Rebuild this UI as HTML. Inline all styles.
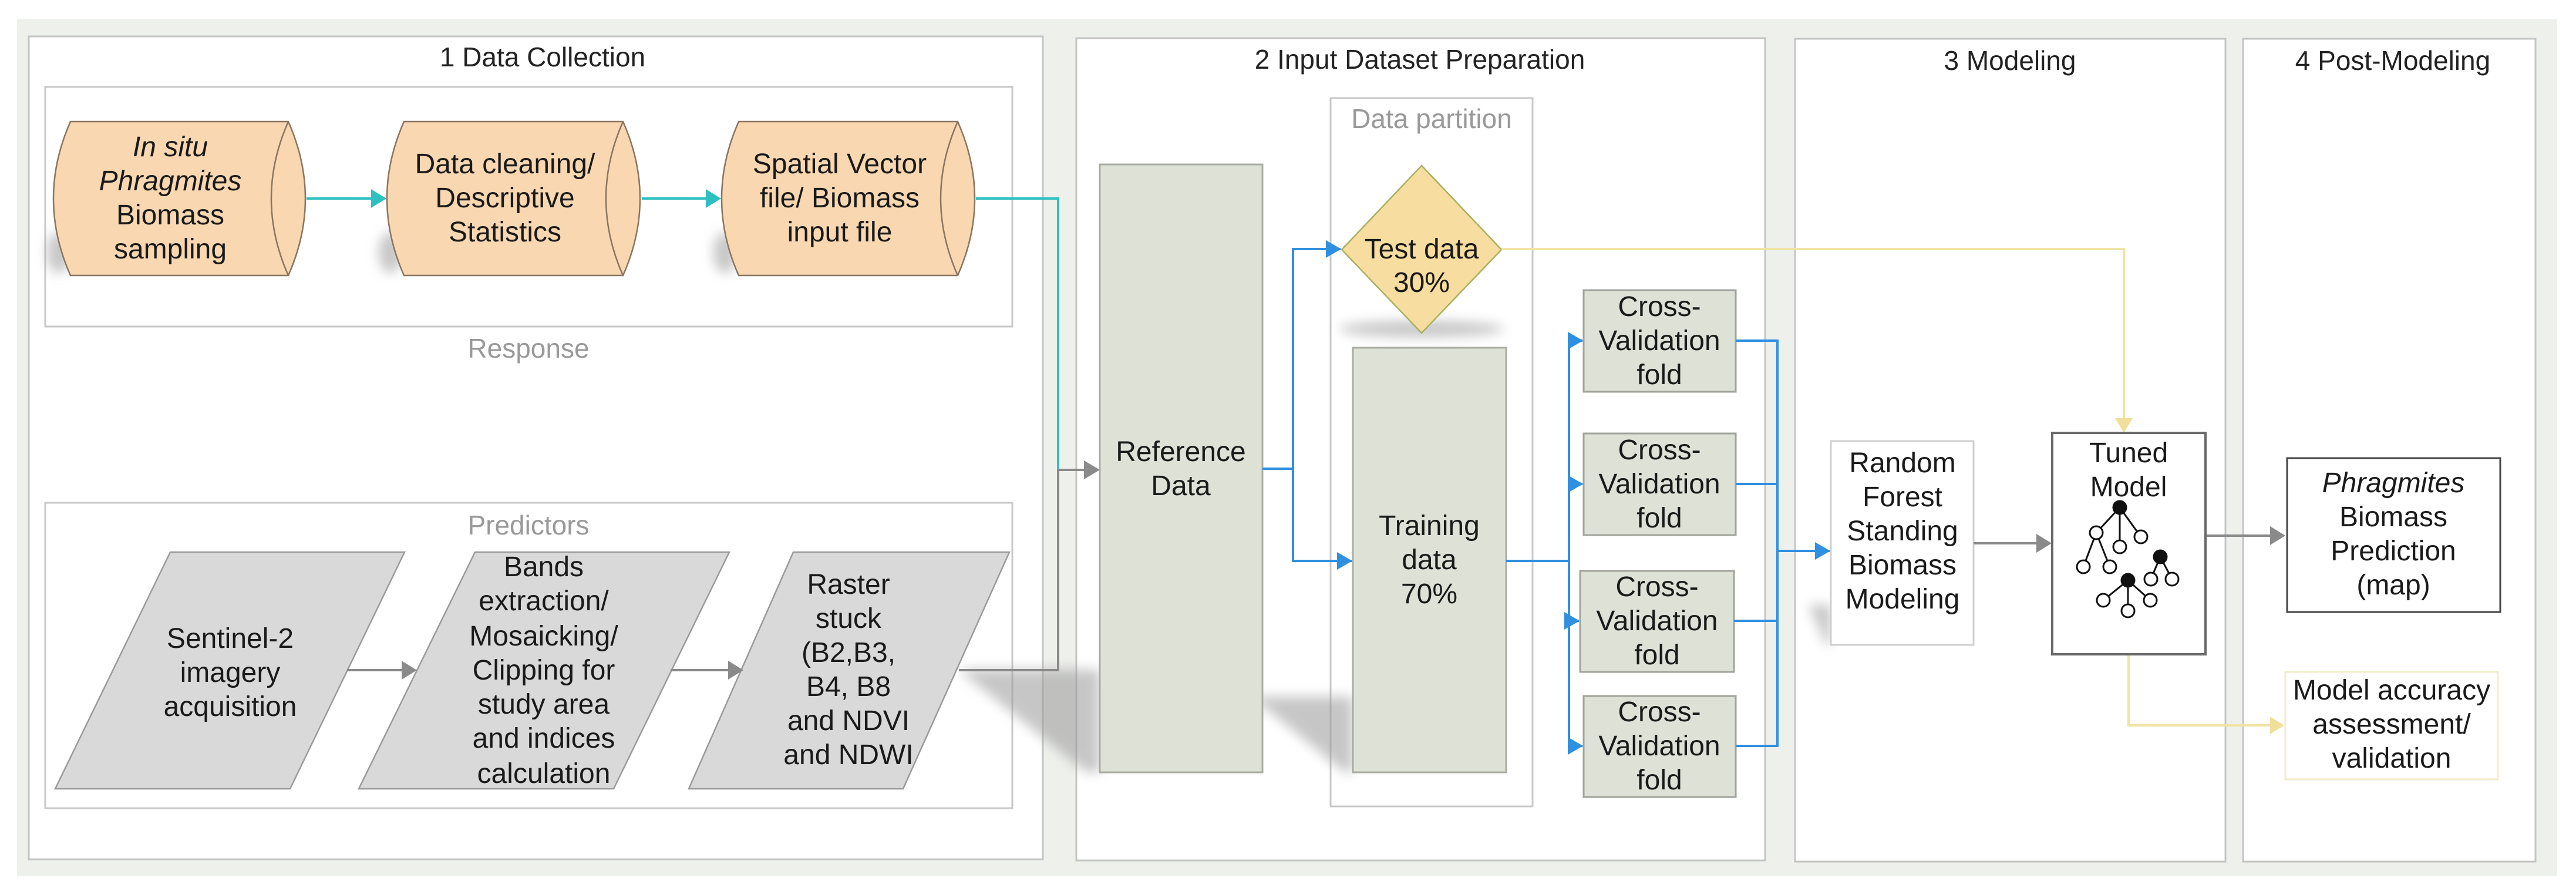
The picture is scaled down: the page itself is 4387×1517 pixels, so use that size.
<!DOCTYPE html>
<html><head><meta charset="utf-8"><style>
html,body{margin:0;padding:0;background:#fff;}
svg{display:block;}
text{font-family:"Liberation Sans",Arial,sans-serif;}
</style></head><body>
<svg width="4387" height="1517" viewBox="0 0 4387 1517" xmlns="http://www.w3.org/2000/svg">
<defs>
<filter id="bl" x="-50%" y="-50%" width="200%" height="200%"><feGaussianBlur stdDeviation="10"/></filter>
<marker id="ab" markerWidth="26" markerHeight="30" refX="25" refY="15" orient="auto" markerUnits="userSpaceOnUse" viewBox="0 0 26 30"><path d="M0,0 L26,15 L0,30 Z" fill="#2f8fe0"/></marker>
</defs>
<rect x="29" y="32" width="4326" height="1459" fill="#eef0ec"/>
<rect x="49" y="62" width="1727" height="1401" fill="#fff" stroke="#c4c4c4" stroke-width="3"/>
<rect x="1833" y="65" width="1173" height="1400" fill="#fff" stroke="#c4c4c4" stroke-width="3"/>
<rect x="3057" y="66" width="733" height="1401" fill="#fff" stroke="#c4c4c4" stroke-width="3"/>
<rect x="3820" y="66" width="498" height="1401" fill="#fff" stroke="#c4c4c4" stroke-width="3"/>
<g font-size="46" fill="#222" text-anchor="middle">
<text x="924" y="113">1 Data Collection</text>
<text x="2418" y="117">2 Input Dataset Preparation</text>
<text x="3423" y="119">3 Modeling</text>
<text x="4075" y="119">4 Post-Modeling</text>
</g>
<rect x="77" y="148" width="1647" height="408" fill="#fff" stroke="#c8c8c8" stroke-width="3"/>
<rect x="77" y="856" width="1647" height="520" fill="#fff" stroke="#c8c8c8" stroke-width="3"/>
<rect x="2266" y="167" width="344" height="1206" fill="#fff" stroke="#c8c8c8" stroke-width="3"/>
<g font-size="46" fill="#999" text-anchor="middle">
<text x="900" y="609">Response</text>
<text x="900" y="910">Predictors</text>
<text x="2438" y="218">Data partition</text>
</g>
<g fill="#999" opacity="0.55" filter="url(#bl)">
<polygon points="1632,1140 1873,1140 1873,1315 1850,1315"/>
<polygon points="2131,1186 2304,1186 2304,1315 2290,1315"/>
<polygon points="3080,1030 3118,1030 3118,1098 3110,1098"/>
<ellipse cx="2421" cy="560" rx="140" ry="14"/>
<ellipse cx="100" cy="430" rx="20" ry="35"/>
<ellipse cx="665" cy="430" rx="20" ry="35"/>
<ellipse cx="1235" cy="430" rx="20" ry="35"/>
</g>
<g fill="#f8d7b1" stroke="#8a7560" stroke-width="2.5">
<path d="M120,207 L491,207 Q549,338 491,469 L120,469 Q62,338 120,207 Z"/>
<path d="M491,207 Q433,338 491,469" fill="none"/>
<path d="M688,207 L1061,207 Q1119,338 1061,469 L688,469 Q630,338 688,207 Z"/>
<path d="M1061,207 Q1003,338 1061,469" fill="none"/>
<path d="M1258,207 L1631,207 Q1689,338 1631,469 L1258,469 Q1200,338 1258,207 Z"/>
<path d="M1631,207 Q1573,338 1631,469" fill="none"/>
</g>
<g font-size="48" fill="#1a1a1a" text-anchor="middle">
<text x="290" y="266" font-style="italic">In situ</text>
<text x="290" y="324" font-style="italic">Phragmites</text>
<text x="290" y="382">Biomass</text>
<text x="290" y="440">sampling</text>
<text x="860" y="295">Data cleaning/</text>
<text x="860" y="353">Descriptive</text>
<text x="860" y="411">Statistics</text>
<text x="1430" y="295">Spatial Vector</text>
<text x="1430" y="353">file/ Biomass</text>
<text x="1430" y="411">input file</text>
</g>
<g stroke="#2ebfc0" stroke-width="4" fill="none">
<line x1="522" y1="338" x2="640" y2="338"/>
<line x1="1093" y1="338" x2="1210" y2="338"/>
<polyline points="1662,338 1802,338 1802,800"/>
</g>
<g fill="#2ebfc0">
<polygon points="632,322 658,338 632,354"/>
<polygon points="1202,322 1228,338 1202,354"/>
</g>
<g fill="#d9d9d9" stroke="#9a9a9a" stroke-width="2.5">
<polygon points="290,940 689,940 494,1343 94,1343"/>
<polygon points="809,940 1242,940 1045,1343 611,1343"/>
<polygon points="1351,940 1719,940 1538,1343 1173,1343"/>
</g>
<g font-size="48" fill="#1a1a1a" text-anchor="middle">
<text x="392" y="1103">Sentinel-2</text>
<text x="392" y="1161">imagery</text>
<text x="392" y="1219">acquisition</text>
<text x="926" y="981">Bands</text>
<text x="926" y="1039">extraction/</text>
<text x="926" y="1099">Mosaicking/</text>
<text x="926" y="1157">Clipping for</text>
<text x="926" y="1215">study area</text>
<text x="926" y="1273">and indices</text>
<text x="926" y="1333">calculation</text>
<text x="1445" y="1011">Raster</text>
<text x="1445" y="1069">stuck</text>
<text x="1445" y="1127">(B2,B3,</text>
<text x="1445" y="1185">B4, B8</text>
<text x="1445" y="1243">and NDVI</text>
<text x="1445" y="1301">and NDWI</text>
</g>
<g stroke="#8a8a8a" stroke-width="4" fill="none">
<line x1="591" y1="1141" x2="690" y2="1141"/>
<line x1="1142" y1="1141" x2="1248" y2="1141"/>
<polyline points="1633,1141 1802,1141 1802,800 1850,800"/>
</g>
<g fill="#8a8a8a">
<polygon points="684,1125 710,1141 684,1157"/>
<polygon points="1240,1125 1266,1141 1240,1157"/>
<polygon points="1846,784 1873,800 1846,816"/>
</g>
<rect x="1873" y="280" width="277" height="1035" fill="#dde1d6" stroke="#a9aca2" stroke-width="3"/>
<rect x="2304" y="592" width="261" height="723" fill="#dde1d6" stroke="#a9aca2" stroke-width="3"/>
<polygon points="2421,282 2557,425 2421,567 2285,425" fill="#f7dd9f" stroke="#a8b060" stroke-width="2.5"/>
<g font-size="48" fill="#1a1a1a" text-anchor="middle">
<text x="2011" y="785">Reference</text>
<text x="2011" y="843">Data</text>
<text x="2421" y="440">Test data</text>
<text x="2421" y="497">30%</text>
<text x="2434" y="911">Training</text>
<text x="2434" y="969">data</text>
<text x="2434" y="1027">70%</text>
</g>
<g fill="#dde1d6" stroke="#a0a39a" stroke-width="3">
<rect x="2697" y="494" width="259" height="173"/>
<rect x="2697" y="738" width="259" height="173"/>
<rect x="2691" y="972" width="262" height="172"/>
<rect x="2697" y="1185" width="259" height="172"/>
</g>
<g font-size="48" fill="#1a1a1a" text-anchor="middle">
<text x="2826" y="538">Cross-</text><text x="2826" y="596">Validation</text><text x="2826" y="654">fold</text>
<text x="2826" y="782">Cross-</text><text x="2826" y="840">Validation</text><text x="2826" y="898">fold</text>
<text x="2822" y="1015">Cross-</text><text x="2822" y="1073">Validation</text><text x="2822" y="1131">fold</text>
<text x="2826" y="1228">Cross-</text><text x="2826" y="1286">Validation</text><text x="2826" y="1344">fold</text>
</g>
<g stroke="#2f8fe0" stroke-width="4" fill="none">
<polyline points="2150,798 2202,798 2202,424 2283,424" marker-end="url(#ab)"/>
<polyline points="2202,798 2202,955 2302,955" marker-end="url(#ab)"/>
<line x1="2565" y1="955" x2="2672" y2="955"/>
<line x1="2672" y1="580" x2="2672" y2="1270"/>
<line x1="2672" y1="580" x2="2695" y2="580" marker-end="url(#ab)"/>
<line x1="2672" y1="824" x2="2695" y2="824" marker-end="url(#ab)"/>
<line x1="2672" y1="1057" x2="2689" y2="1057" marker-end="url(#ab)"/>
<line x1="2672" y1="1270" x2="2695" y2="1270" marker-end="url(#ab)"/>
<polyline points="2956,580 3027,580 3027,1270 2956,1270"/>
<line x1="2956" y1="824" x2="3027" y2="824"/>
<line x1="2953" y1="1057" x2="3027" y2="1057"/>
<line x1="3027" y1="938" x2="3116" y2="938" marker-end="url(#ab)"/>
</g>
<g stroke="#efe4a6" stroke-width="4" fill="none">
<polyline points="2557,424 3617,424 3617,716"/>
<polyline points="3625,1114 3625,1235 3870,1235"/>
</g>
<g fill="#efdf9a">
<polygon points="3602,712 3617,737 3632,712"/>
<polygon points="3866,1220 3890,1235 3866,1250"/>
</g>
<rect x="3118" y="751" width="243" height="347" fill="#fff" stroke="#cfcfcf" stroke-width="3"/>
<g font-size="48" fill="#1a1a1a" text-anchor="middle">
<text x="3240" y="804">Random</text><text x="3240" y="862">Forest</text><text x="3240" y="920">Standing</text><text x="3240" y="978">Biomass</text><text x="3240" y="1036">Modeling</text>
</g>
<g stroke="#8a8a8a" stroke-width="4"><line x1="3361" y1="925" x2="3472" y2="925"/><line x1="3756" y1="912" x2="3870" y2="912"/></g>
<g fill="#8a8a8a"><polygon points="3468,909 3494,925 3468,941"/><polygon points="3866,896 3892,912 3866,928"/></g>
<rect x="3495" y="737" width="261" height="377" fill="#fff" stroke="#6a6a6a" stroke-width="4"/>
<g font-size="48" fill="#1a1a1a" text-anchor="middle"><text x="3625" y="787">Tuned</text><text x="3625" y="845">Model</text></g>
<g stroke="#111" stroke-width="3" fill="#fff">
<line x1="3610" y1="864" x2="3570" y2="907"/><line x1="3610" y1="864" x2="3610" y2="931"/><line x1="3610" y1="864" x2="3646" y2="914"/>
<line x1="3570" y1="907" x2="3548" y2="965"/><line x1="3570" y1="907" x2="3593" y2="965"/>
<line x1="3679" y1="948" x2="3663" y2="986"/><line x1="3679" y1="948" x2="3699" y2="986"/>
<line x1="3624" y1="988" x2="3582" y2="1022"/><line x1="3624" y1="988" x2="3624" y2="1040"/><line x1="3624" y1="988" x2="3662" y2="1022"/>
<circle cx="3570" cy="907" r="11"/><circle cx="3610" cy="931" r="11"/><circle cx="3646" cy="914" r="11"/>
<circle cx="3548" cy="965" r="11"/><circle cx="3593" cy="965" r="11"/>
<circle cx="3663" cy="986" r="11"/><circle cx="3699" cy="986" r="11"/>
<circle cx="3582" cy="1022" r="11"/><circle cx="3624" cy="1040" r="11"/><circle cx="3662" cy="1022" r="11"/>
<circle cx="3610" cy="864" r="11" fill="#111"/><circle cx="3679" cy="948" r="11" fill="#111"/><circle cx="3624" cy="988" r="11" fill="#111"/>
</g>
<rect x="3895" y="780" width="363" height="262" fill="#fff" stroke="#444" stroke-width="3"/>
<g font-size="48" fill="#1a1a1a" text-anchor="middle">
<text x="4076" y="838" font-style="italic">Phragmites</text><text x="4076" y="896">Biomass</text><text x="4076" y="954">Prediction</text><text x="4076" y="1012">(map)</text>
</g>
<rect x="3892" y="1144" width="362" height="183" fill="#fff" stroke="#f3eccb" stroke-width="3"/>
<g font-size="48" fill="#1a1a1a" text-anchor="middle">
<text x="4073" y="1191">Model accuracy</text><text x="4073" y="1249">assessment/</text><text x="4073" y="1307">validation</text>
</g>
</svg>
</body></html>
